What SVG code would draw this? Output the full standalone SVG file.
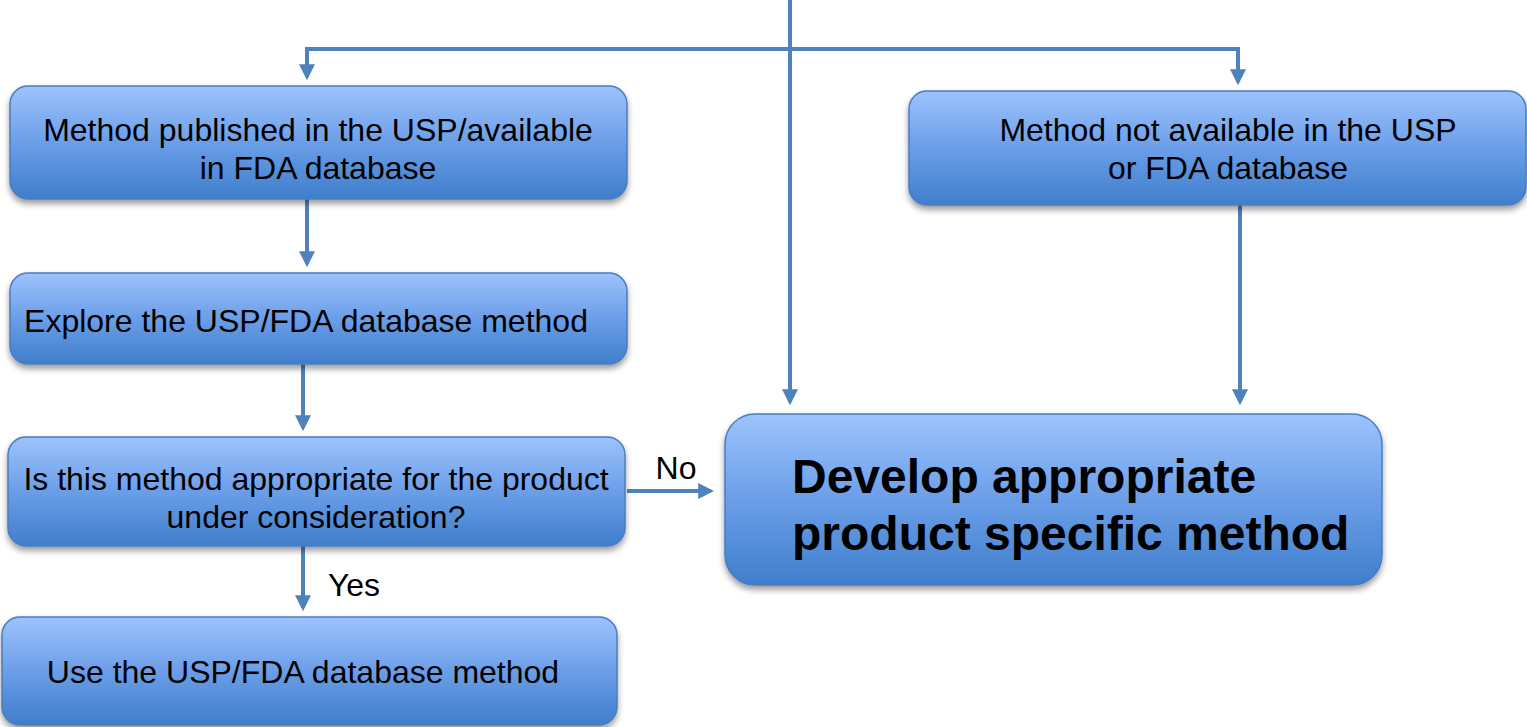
<svg xmlns="http://www.w3.org/2000/svg" width="1527" height="727" viewBox="0 0 1527 727">
<defs>
<linearGradient id="g" x1="0" y1="0" x2="0" y2="1">
<stop offset="0" stop-color="#9dc3fd"/>
<stop offset="0.5" stop-color="#6b9ee8"/>
<stop offset="1" stop-color="#3f7ecb"/>
</linearGradient>
<filter id="sh" x="-5%" y="-10%" width="110%" height="130%">
<feGaussianBlur in="SourceAlpha" stdDeviation="3"/>
<feOffset dx="0" dy="4"/>
<feComponentTransfer><feFuncA type="linear" slope="0.4"/></feComponentTransfer>
<feMerge><feMergeNode/><feMergeNode in="SourceGraphic"/></feMerge>
</filter>
<marker id="ar" markerWidth="4" markerHeight="4" refX="3.2" refY="2" orient="auto" markerUnits="strokeWidth">
<path d="M0,0 L4,2 L0,4 z" fill="#4f81bd"/>
</marker>
<style>
.box{fill:url(#g);stroke:#4a7cc0;stroke-width:1.5;filter:url(#sh)}
.t{font-family:"Liberation Sans",Arial,sans-serif;font-size:32px;fill:#000;text-anchor:middle}
.b{font-family:"Liberation Sans",Arial,sans-serif;font-size:48px;font-weight:bold;fill:#000}
.c{fill:none;stroke:#4f81bd;stroke-width:4}
</style>
</defs>
<rect width="1527" height="727" fill="#fff"/>
<g id="connectors">
<path class="c" d="M790,0 V402" marker-end="url(#ar)"/>
<path class="c" d="M307,77 V49 H1238 V82" marker-end="url(#ar)"/>
<path class="c" d="M307,49 V77" marker-end="url(#ar)"/>
<path class="c" d="M307,199 V264" marker-end="url(#ar)"/>
<path class="c" d="M303,364 V428" marker-end="url(#ar)"/>
<path class="c" d="M303,546 V608" marker-end="url(#ar)"/>
<path class="c" d="M627,491 H711" marker-end="url(#ar)"/>
<path class="c" d="M1240,205 V402" marker-end="url(#ar)"/>
<text class="t" x="676" y="479">No</text>
<text class="t" x="354" y="596">Yes</text>
</g>
<g id="n1">
<rect class="box" x="10" y="86" width="617" height="113" rx="18"/>
<text class="t" x="318" y="141">Method published in the USP/available</text>
<text class="t" x="318" y="179">in FDA database</text>
</g>
<g id="n2">
<rect class="box" x="10" y="273" width="617" height="91" rx="18"/>
<text class="t" x="306" y="332">Explore the USP/FDA database method</text>
</g>
<g id="n3">
<rect class="box" x="8" y="437" width="617" height="109" rx="18"/>
<text class="t" x="316" y="490">Is this method appropriate for the product</text>
<text class="t" x="316" y="528">under consideration?</text>
</g>
<g id="n4">
<rect class="box" x="2" y="617" width="615" height="108" rx="18"/>
<text class="t" x="303" y="683">Use the USP/FDA database method</text>
</g>
<g id="n5">
<rect class="box" x="909" y="91" width="617" height="114" rx="18"/>
<text class="t" x="1228" y="141">Method not available in the USP</text>
<text class="t" x="1228" y="179">or FDA database</text>
</g>
<g id="n6">
<rect class="box" x="725" y="414" width="657" height="171" rx="30"/>
<text class="b" x="792" y="493">Develop appropriate</text>
<text class="b" x="792" y="550">product specific method</text>
</g>
</svg>
